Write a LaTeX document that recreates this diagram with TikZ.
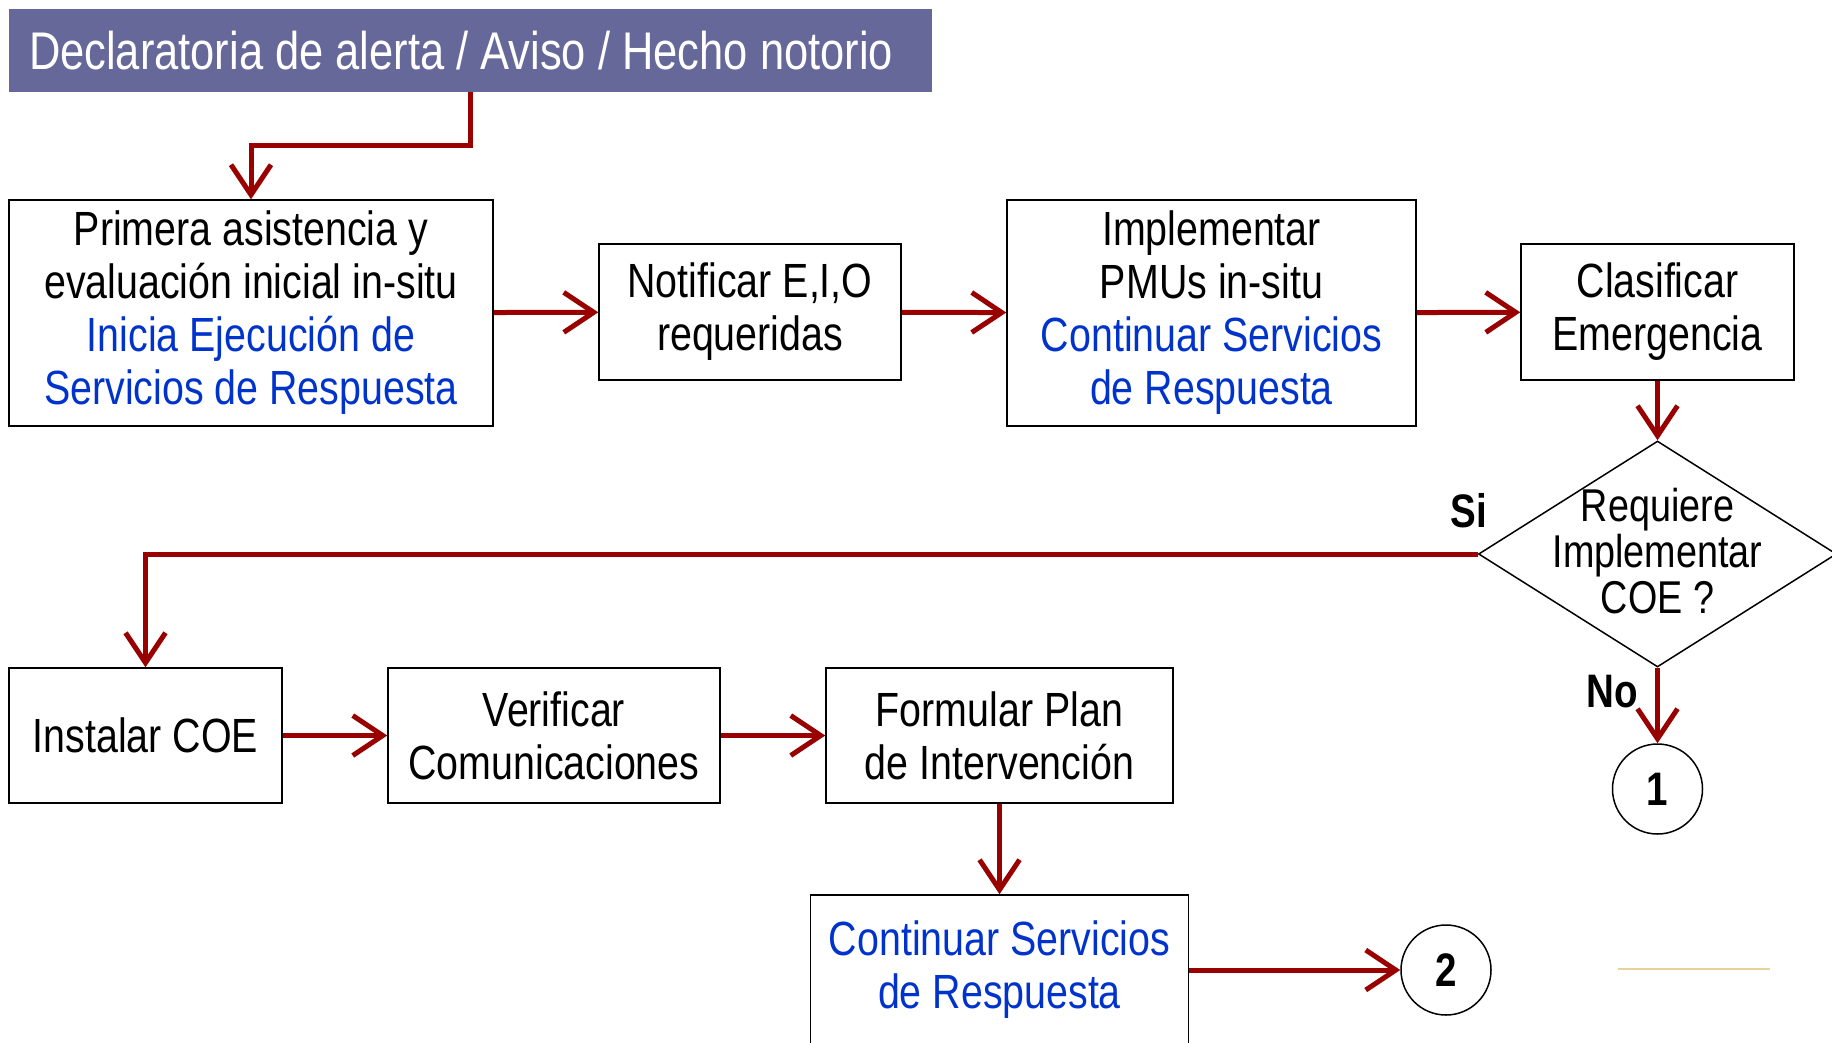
\documentclass[tikz,border=0pt]{standalone}
\usepackage{fontspec}
\setmainfont[FakeStretch=0.82]{Liberation Sans}
\usetikzlibrary{arrows.meta,shapes.geometric}
\definecolor{titlebg}{RGB}{103,104,154}
\definecolor{flowred}{RGB}{153,0,0}
\definecolor{respblue}{RGB}{0,51,204}
\definecolor{faintgold}{RGB}{228,210,150}
\newcommand{\resp}[1]{\textcolor{respblue}{#1}}

\begin{document}
\begin{tikzpicture}[x=1pt, y=-1pt,
    box/.style={draw, line width=1.5pt, align=center, inner sep=0pt, font=\fontsize{48}{53}\selectfont},
    flow/.style={draw=flowred, line width=5pt, -{Straight Barb[length=30pt, width=40pt, line width=5pt]}},
    conn/.style={circle, draw, line width=1.5pt, minimum size=90pt, inner sep=0pt, font=\bfseries\fontsize{47}{50}\selectfont},
    tag/.style={font=\bfseries\fontsize{47}{50}\selectfont}]
    \useasboundingbox (0,0) rectangle (1832,1042);
    \node[fill=titlebg, text=white, inner xsep=20pt, inner ysep=0pt, minimum height=83pt, font=\fontsize{53}{56}\selectfont] (title) at (470.5,50.5) {\makebox[883pt][l]{Declaratoria de alerta / Aviso / Hecho notorio}};
    \node[box, minimum width=484pt, minimum height=226pt] (prim) at (251,313) {Primera asistencia y\\evaluación inicial in-situ\\\resp{Inicia Ejecución de}\\\resp{Servicios de Respuesta}};
    \node[box, minimum width=302pt, minimum height=136pt] (notif) at (750,312) {Notificar E,I,O\\requeridas};
    \node[box, minimum width=409pt, minimum height=226pt] (impl) at (1211.5,313) {Implementar\\PMUs in-situ\\\resp{Continuar Servicios}\\\resp{de Respuesta}};
    \node[box, minimum width=273pt, minimum height=136pt] (clas) at (1657.5,312) {Clasificar\\Emergencia};
    \node[diamond, draw, line width=1.5pt, minimum width=358pt, minimum height=226pt, inner sep=0pt] (coe) at (1657.5,554) {};
    \node[align=center, font=\fontsize{46}{45.6}\selectfont] (coetext) at (1657.5,551) {Requiere\\Implementar\\COE ?};
    \node[conn] (uno) at (1657.5,789) {1};
    \node[box, minimum width=273pt, minimum height=135pt] (inst) at (145.5,735.5) {Instalar COE};
    \node[box, minimum width=332pt, minimum height=135pt] (verif) at (554,735.5) {Verificar\\Comunicaciones};
    \node[box, minimum width=347pt, minimum height=135pt] (form) at (999.5,735.5) {Formular Plan\\de Intervención};
    \node[box, minimum width=378pt, minimum height=150pt] (cont) at (999.5,970) {\resp{Continuar Servicios}\\\resp{de Respuesta}};
    \node[conn] (dos) at (1446,970) {2};
    \node[tag] (si) at (1469,511) {Si};
    \node[tag] (no) at (1612,692) {No};
    \coordinate (bend) at (0,145);
    \draw[flow] (title.south) |- (bend -| prim.north) -- (prim.north);
    \draw[flow] (prim) -- (notif);
    \draw[flow] (notif) -- (impl);
    \draw[flow] (impl) -- (clas);
    \draw[flow] (clas) -- (coe.north);
    \draw[flow] (coe.west) -| (inst.north);
    \draw[flow] (coe.south) -- (uno.north);
    \draw[flow] (inst) -- (verif);
    \draw[flow] (verif) -- (form);
    \draw[flow] (form) -- (cont);
    \draw[flow] (cont) -- (dos);
    \draw[faintgold, line width=1.5pt] (1618,969) -- (1770,969);
\end{tikzpicture}
\end{document}
